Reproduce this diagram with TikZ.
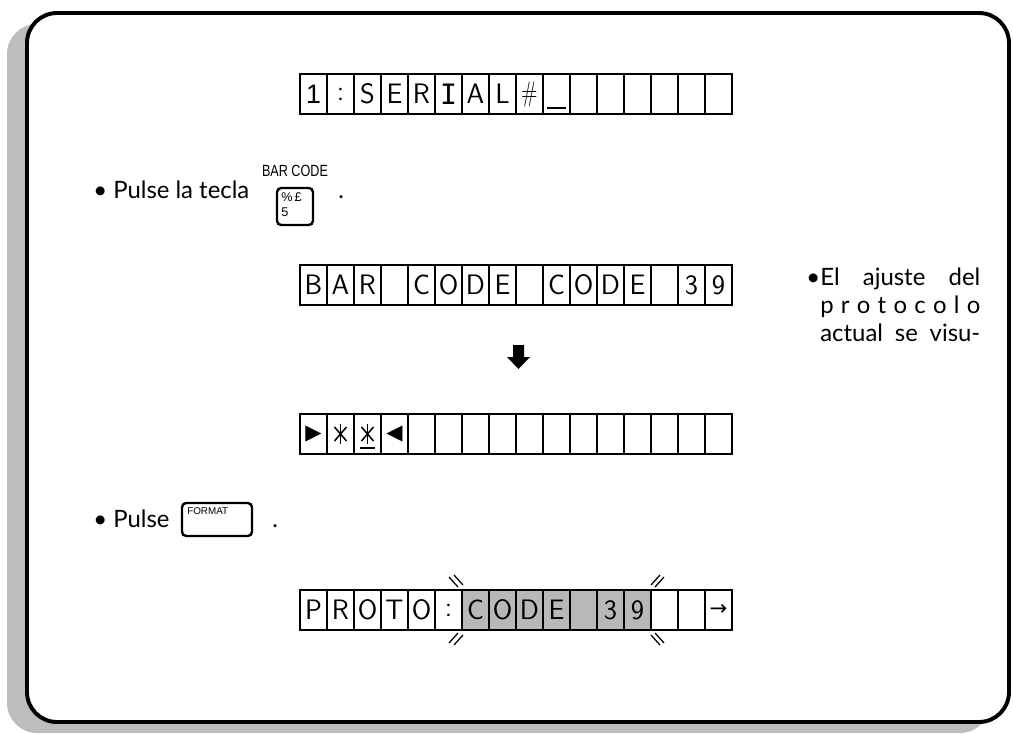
\documentclass[tikz,border=0pt]{standalone}
\usepackage{fontspec}
\usepackage{graphicx}
\setmainfont{Lato}
\newfontfamily\symfont{DejaVu Sans}
\newfontfamily\barfont{DejaVu Sans Mono}
\newfontfamily\keyfont{Liberation Sans}
\usetikzlibrary{positioning}

\tikzset{
  lcdline/.style={line width=1.1pt},
  lcd/.style={inner sep=0pt,font=\fontsize{20}{20}\sffamily},
  keycap/.style={draw,line width=1.7pt,rounded corners=3pt},
  says/.style={inner sep=0pt,anchor=base west,font=\fontsize{17}{20}\selectfont},
  flash/.style={line width=0.9pt},
}

\begin{document}
\begin{tikzpicture}[x=0.025cm,y=-0.025cm]
  \useasboundingbox (0,0) rectangle (1013,733);
  % shadow and frame
  \fill[black!26,rounded corners=0.75cm] (7,24) rectangle (990,733);
  \draw[line width=2.8pt,fill=white,rounded corners=0.75cm] (27,13) rectangle (1009,722);

  % display: serial
  \draw[lcdline] (300,74) rectangle (732,114);
  \foreach \i in {1,...,15} \draw[lcdline] (300+27*\i,74) -- (300+27*\i,114);
  \foreach \c [count=\i] in {{\keyfont\fontsize{19}{19}\selectfont 1},:,S,E,R,{\barfont I},A,L,{\scalebox{0.75}[1]{\#}}}
    \node[lcd] (serial\i) at (286.5+27*\i,94) {\c};
  \draw[lcdline] (547,108) -- (566,108);

  % key BAR CODE
  \node[says] (pulse1) at (93,198) {\textbullet\ Pulse la tecla};
  \draw[keycap] (277,188) rectangle (313,225);
  \node[font=\keyfont\fontsize{11.5}{12}\selectfont] (barlbl) at (295,171) {\scalebox{0.78}[1]{BAR CODE}};
  \node[font=\keyfont\fontsize{9}{10}\selectfont,anchor=north west,inner sep=0pt] (pctkey) at (281,192) {\%\,£};
  \node[font=\keyfont\fontsize{9}{10}\selectfont,anchor=north west,inner sep=0pt] (fivekey) at (281,208) {5};
  \node[says] (dot1) at (338,198) {.};

  % display: bar code
  \draw[lcdline] (300,265) rectangle (732,305);
  \foreach \i in {1,...,15} \draw[lcdline] (300+27*\i,265) -- (300+27*\i,305);
  \foreach \c [count=\i] in {B,A,R,{},C,O,D,E,{},C,O,D,E,{},3,9}
    \node[lcd] (bar\i) at (286.5+27*\i,285) {\c};

  % note on the right
  \node[says] (note0) at (806,285) {\textbullet};
  \node[says] (note1) at (820,285) {\makebox[4cm][s]{El ajuste del}};
  \node[says] (note2) at (820,313) {\makebox[4cm][s]{p r o t o c o l o}};
  \node[says] (note3) at (820,341) {\makebox[4cm][s]{actual se visu-}};

  % arrow
  \fill (513,345) -- (524,345) -- (524,357) -- (530,357) -- (518.5,369)
        -- (507,357) -- (513,357) -- cycle;

  % display: stars
  \draw[lcdline] (300,414) rectangle (732,454);
  \foreach \i in {1,...,15} \draw[lcdline] (300+27*\i,414) -- (300+27*\i,454);
  \node[font=\symfont\fontsize{15}{15}\selectfont] (star1) at (313.5,434) {▶};
  \node[font=\symfont\fontsize{15}{15}\selectfont] (star4) at (394.5,434) {◀};
  \foreach \x in {340.5,367.5} {
    \draw[lcdline] (\x,424) -- (\x,444);
    \draw[lcdline] (\x-6,427) -- (\x+6,441);
    \draw[lcdline] (\x+6,427) -- (\x-6,441);
  }
  \draw[lcdline] (360,448) -- (375,448);

  % key FORMAT
  \node[says] (pulse2) at (93,527) {\textbullet\ Pulse};
  \draw[keycap] (182,503) rectangle (252,536);
  \node[font=\keyfont\fontsize{7}{8}\selectfont,anchor=north west,inner sep=0pt] (fmtlbl) at (187,507) {FORMAT};
  \node[says] (dot2) at (272,527) {.};

  % display: proto
  \fill[black!28] (462,590) rectangle (651,630);
  \draw[lcdline] (300,590) rectangle (732,630);
  \foreach \i in {1,...,15} \draw[lcdline] (300+27*\i,590) -- (300+27*\i,630);
  \foreach \c [count=\i] in {P,R,O,T,O,:,C,O,D,E,{},3,9,{},{}}
    \node[lcd] (proto\i) at (286.5+27*\i,610) {\c};
  \node[font=\symfont\fontsize{15}{15}\selectfont] (proto16) at (718.5,610) {→};
  % blink marks
  \draw[flash] (449,577) -- (458,587) (454,575) -- (463,585);
  \draw[flash] (655,587) -- (664,577) (651,585) -- (660,575);
  \draw[flash] (449,643) -- (458,633) (454,645) -- (463,635);
  \draw[flash] (655,633) -- (664,643) (651,635) -- (660,645);
\end{tikzpicture}
\end{document}
